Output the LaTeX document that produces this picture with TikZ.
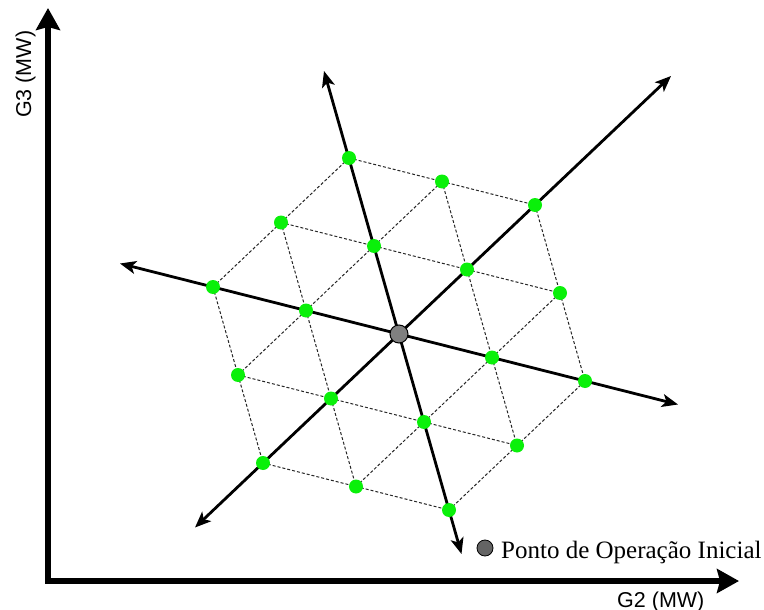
\documentclass[tikz,border=0pt]{standalone}
\usepackage{fontspec}
\setmainfont{Liberation Serif}
\newfontfamily\labfont{Liberation Sans}
\usetikzlibrary{arrows.meta}
\definecolor{ptgreen}{RGB}{10,240,10}
\definecolor{ctrgray}{RGB}{128,128,128}
\definecolor{leggray}{RGB}{100,100,100}
\tikzset{
  gridline/.style={draw=black!85, line width=1pt, dash pattern=on 3pt off 2pt},
  dirline/.style={draw=black, line width=2.8pt, {Stealth[length=16pt,width=13pt,inset=4pt]}-{Stealth[length=16pt,width=13pt,inset=4pt]}},
  axisline/.style={draw=black, line width=5.5pt, line join=miter, {Stealth[length=22pt,width=24pt,inset=3pt]}-{Stealth[length=22pt,width=24pt,inset=3pt]}},
  ptdot/.style={circle, fill=ptgreen, minimum size=14pt, inner sep=0pt},
  ctrdot/.style={circle, fill=ctrgray, draw=black, line width=1pt, minimum size=18pt, inner sep=0pt},
  legdot/.style={circle, fill=leggray, draw=black, line width=0.8pt, minimum size=16pt, inner sep=0pt},
  axlabel/.style={font=\labfont\fontsize{21.5}{24}\selectfont, inner sep=0pt},
  leglabel/.style={font=\fontsize{25}{28}\selectfont, inner sep=0pt}
}
\begin{document}
\begin{tikzpicture}[x=1pt,y=-1pt]
\useasboundingbox (0,0) rectangle (764,610);
% axes
\coordinate (ytip) at (48,8);
\coordinate (xtip) at (739,581);
\draw[axisline] (ytip) |- (xtip);
\node[axlabel, rotate=90, anchor=base west] (g3) at (31,118) {G3 (MW)};
\node[axlabel, anchor=base west] (g2) at (617,607) {G2 (MW)};
% lattice coordinates
\foreach \i in {-2,...,2}{\foreach \j in {-2,...,2}{
  \pgfmathtruncatemacro\s{abs(\i+\j)}
  \pgfmathtruncatemacro\a{\i+2}
  \pgfmathtruncatemacro\b{\j+2}
  \pgfmathsetmacro\px{399+93*\i+25*\j}
  \pgfmathsetmacro\py{334+23.5*\i+88*\j}
  \ifnum\s<3 \coordinate (q\a\b) at (\px,\py); \fi
}}
% dashed grid edges
\foreach \i in {-2,...,2}{\foreach \j in {-2,...,2}{
  \pgfmathtruncatemacro\s{abs(\i+\j)}
  \pgfmathtruncatemacro\a{\i+2}
  \pgfmathtruncatemacro\b{\j+2}
  \pgfmathtruncatemacro\an{\i+3}
  \pgfmathtruncatemacro\bn{\j+3}
  \pgfmathtruncatemacro\bm{\j+1}
  \pgfmathtruncatemacro\su{abs(\i+\j+1)}
  \ifnum\s<3
    \ifnum\i<2 \ifnum\su<3 \draw[gridline] (q\a\b) -- (q\an\b); \fi\fi
    \ifnum\j<2 \ifnum\su<3 \draw[gridline] (q\a\b) -- (q\a\bn); \fi\fi
    \ifnum\i<2 \ifnum\j>-2 \draw[gridline] (q\a\b) -- (q\an\bm); \fi\fi
  \fi
}}
% three direction lines
\coordinate (A1) at (324,71);
\coordinate (A2) at (461.5,554);
\coordinate (B1) at (195,527.5);
\coordinate (B2) at (671,76);
\coordinate (C1) at (120,263.5);
\coordinate (C2) at (678,404.5);
\draw[dirline] (A1) -- (A2);
\draw[dirline] (B1) -- (B2);
\draw[dirline] (C1) -- (C2);
% green points
\foreach \i in {-2,...,2}{\foreach \j in {-2,...,2}{
  \pgfmathtruncatemacro\s{abs(\i+\j)}
  \pgfmathtruncatemacro\a{\i+2}
  \pgfmathtruncatemacro\b{\j+2}
  \ifnum\s<3 \node[ptdot] (p\a\b) at (q\a\b) {}; \fi
}}
\node[ctrdot] (ctr) at (q22) {};
% legend
\node[legdot] (leg) at (485,548) {};
\node[leglabel, anchor=base west] (legtxt) at (501,558) {Ponto de Operação Inicial};
\end{tikzpicture}
\end{document}
